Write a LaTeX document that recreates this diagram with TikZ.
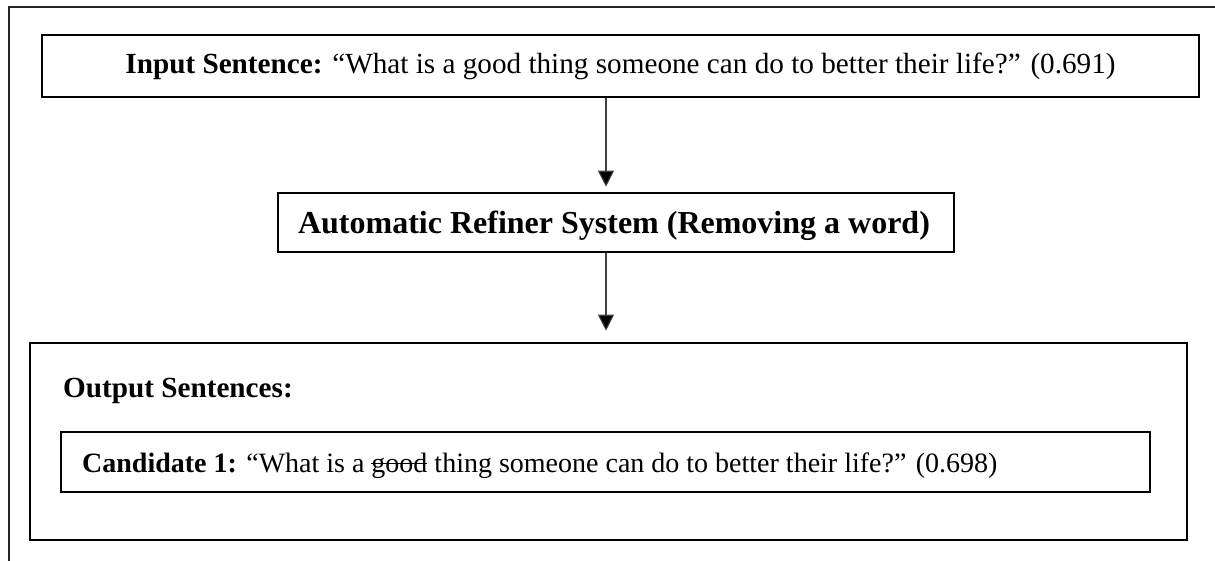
\documentclass[tikz,border=0pt]{standalone}
\usepackage{fontspec}
\setmainfont{Liberation Serif}
\usetikzlibrary{arrows.meta}
% struck-through word
\newcommand{\strikeword}[1]{\setbox0\hbox{#1}\rlap{\rule[0.28em]{\wd0}{1.3pt}}\box0}
\tikzset{
  box/.style={draw, line width=2.6pt, minimum width=#1, inner sep=0pt},
  txt/.style={inner sep=0pt},
  flow/.style={draw=black!75, line width=1.1pt, -{Triangle[length=16pt,width=16pt,fill=black]}},
  frame/.style={line width=2.4pt, draw=black!85},
}
\begin{document}
\begin{tikzpicture}[x=1pt,y=-1pt]
\useasboundingbox (0,0) rectangle (1215,561);
% outer frame (open on the right and at the bottom)
\draw[frame] (9,561) -- (9,7) -- (1215,7);
% boxes
\node[box=1157pt, minimum height=62pt] (in) at (620.5,66) {};
\node[box=676pt, minimum height=59pt] (ref) at (616,222.5) {};
\node[box=1157pt, minimum height=197pt] (out) at (608.5,441.5) {};
\node[box=1089pt, minimum height=60pt] (cand) at (605.5,462) {};
% texts
\node[txt, anchor=base] (intxt) at (620.5,74) {\fontsize{29.2}{34}\selectfont\textbf{Input Sentence:} “What is a good thing someone can do to better their life?” (0.691)};
\node[txt, anchor=base] (reftxt) at (614,234) {\fontsize{32}{38}\selectfont\textbf{Automatic Refiner System (Removing a word)}};
\node[txt, anchor=base west] (outtxt) at (63,397) {\fontsize{29.2}{34}\selectfont\textbf{Output Sentences:}};
\node[txt, anchor=base west] (candtxt) at (82,472) {\fontsize{28}{33}\selectfont\textbf{Candidate 1:} “What is a \strikeword{good}{} thing someone can do to better their life?” (0.698)};
% connectors (arrow tips stop a little short of the next box)
\coordinate (a1s) at (in.south -| 606,0);
\coordinate (a1e) at ([yshift=5pt]ref.north -| 606,0);
\coordinate (a2s) at (ref.south -| 606,0);
\coordinate (a2e) at ([yshift=11pt]out.north -| 606,0);
\draw[flow] (a1s) -- (a1e);
\draw[flow] (a2s) -- (a2e);
\end{tikzpicture}
\end{document}
